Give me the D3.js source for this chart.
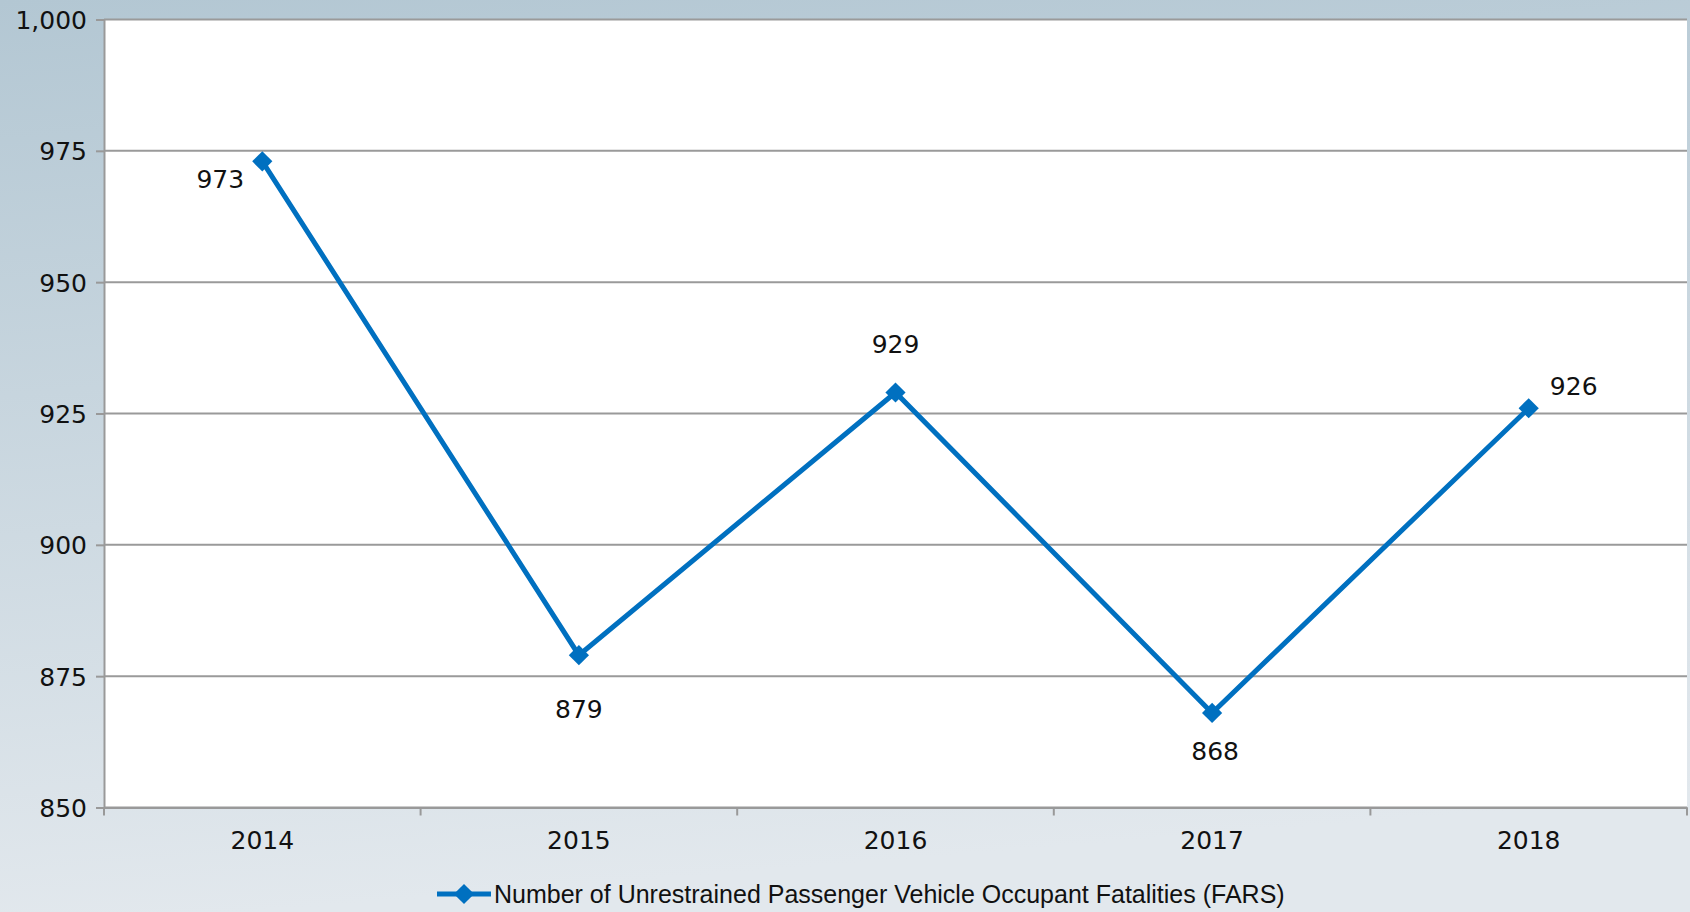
<!DOCTYPE html>
<html lang="en">
<head>
<meta charset="UTF-8">
<title>Unrestrained fatalities</title>
<style>
	body { margin: 0; }
	svg { display: block; }
	.tick text { font-family: "DejaVu Sans", sans-serif; font-size: 25px; fill: #111; }
	.lbl { font-family: "DejaVu Sans", sans-serif; font-size: 25px; fill: #111; text-anchor: middle; }
	.legend text { font-family: "Liberation Sans", Arial, sans-serif; font-size: 25px; fill: #111; }
</style>
</head>
<body>
<svg id="chart"></svg>
<script src="https://cdn.jsdelivr.net/npm/d3@7"></script>
<script>
var years = ["2014", "2015", "2016", "2017", "2018"];
var fatalities = [973, 879, 929, 868, 926];
var yTicks = [850, 875, 900, 925, 950, 975, 1000];
var seriesName = "Number of Unrestrained Passenger Vehicle Occupant Fatalities (FARS)";

var width = 1690, height = 912;
var m = { top: 19.5, right: 3, bottom: 104.5, left: 104 };

var svg = d3.select("#chart").attr("width", width).attr("height", height);

var defs = svg.append("defs");
var grad = defs.append("linearGradient").attr("id", "bg")
	.attr("x1", 0).attr("y1", 0).attr("x2", 0.15).attr("y2", 1);
grad.append("stop").attr("offset", "0%").attr("stop-color", "#b3c7d3");
grad.append("stop").attr("offset", "100%").attr("stop-color", "#e2e8ed");

svg.append("rect").attr("width", width).attr("height", height).attr("fill", "url(#bg)");

var x = d3.scaleBand().domain(years).range([m.left, width - m.right]);
var y = d3.scaleLinear().domain([850, 1000]).range([height - m.bottom, m.top]);

// plot area
svg.append("rect")
	.attr("x", m.left).attr("y", m.top)
	.attr("width", width - m.right - m.left)
	.attr("height", height - m.bottom - m.top)
	.attr("fill", "#fff");

// gridlines
svg.append("g").selectAll("line")
	.data(yTicks)
	.enter().append("line")
	.attr("x1", m.left).attr("x2", width - m.right)
	.attr("y1", function(d) { return y(d); })
	.attr("y2", function(d) { return y(d); })
	.attr("stroke", "#9a9a9a").attr("stroke-width", 2);

// y axis
var yAxis = svg.append("g")
	.attr("transform", "translate(" + m.left + ",0)")
	.call(d3.axisLeft(y).tickValues(yTicks).tickSize(8).tickPadding(9).tickFormat(d3.format(",")));
yAxis.select(".domain").attr("stroke", "#999").attr("stroke-width", 2);
yAxis.selectAll(".tick line").attr("stroke", "#999").attr("stroke-width", 2);
yAxis.selectAll(".tick text").attr("dy", "0.36em");

// x axis
var xAxis = svg.append("g")
	.attr("transform", "translate(0," + (height - m.bottom) + ")")
	.call(d3.axisBottom(x).tickSize(0).tickPadding(24));
xAxis.select(".domain").attr("stroke", "#999").attr("stroke-width", 2);
xAxis.selectAll(".tick text").attr("dy", "0.71em");

// tick marks at band edges
var edges = years.map(function(d) { return x(d); }).concat([x(years[years.length - 1]) + x.bandwidth()]);
svg.append("g").selectAll("line")
	.data(edges)
	.enter().append("line")
	.attr("x1", function(d) { return d; }).attr("x2", function(d) { return d; })
	.attr("y1", height - m.bottom).attr("y2", height - m.bottom + 8)
	.attr("stroke", "#999").attr("stroke-width", 2);

var cx = function(i) { return x(years[i]) + x.bandwidth() / 2; };

var line = d3.line()
	.x(function(d, i) { return cx(i); })
	.y(function(d) { return y(d); });

svg.append("path")
	.datum(fatalities)
	.attr("d", line)
	.attr("fill", "none")
	.attr("stroke", "#0070c0")
	.attr("stroke-width", 5);

var diamond = d3.symbol().type(d3.symbolDiamond2).size(260);

svg.append("g").selectAll("path")
	.data(fatalities)
	.enter().append("path")
	.attr("d", diamond)
	.attr("transform", function(d, i) { return "translate(" + cx(i) + "," + y(d) + ")"; })
	.attr("fill", "#0070c0");

// label placement: left, below, above, below, right
var labelOff = [[-42, 27], [0, 63], [0, -39], [3, 47], [45, -13]];

svg.append("g").selectAll("text")
	.data(fatalities)
	.enter().append("text")
	.attr("class", "lbl")
	.attr("x", function(d, i) { return cx(i) + labelOff[i][0]; })
	.attr("y", function(d, i) { return y(d) + labelOff[i][1]; })
	.text(function(d) { return d; });

// legend
var lg = svg.append("g").attr("class", "legend").attr("transform", "translate(437,894)");
lg.append("line").attr("x1", 0).attr("x2", 54).attr("y1", 0).attr("y2", 0)
	.attr("stroke", "#0070c0").attr("stroke-width", 5);
lg.append("path").attr("d", diamond).attr("transform", "translate(27,0)").attr("fill", "#0070c0");
lg.append("text").attr("x", 57).attr("y", 9).text(seriesName);
</script>
</body>
</html>
